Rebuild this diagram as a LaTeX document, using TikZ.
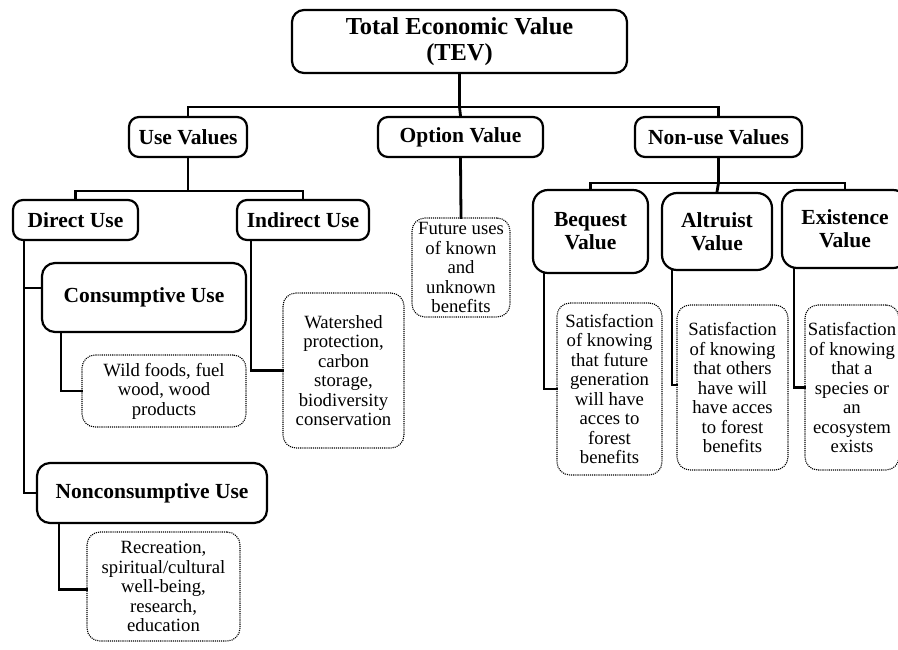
\documentclass[tikz,border=0pt]{standalone}
\usepackage{fontspec}
\setmainfont{Liberation Serif}
\begin{document}
\begin{tikzpicture}[x=1pt,y=-1pt,
  hbox/.style={draw, line width=2.2pt, rounded corners=10pt, inner sep=0pt, align=center,
     font=\fontsize{21.5}{23}\selectfont\bfseries},
  dbox/.style={draw, line width=1.1pt, dash pattern=on 1.1pt off 1pt, rounded corners=13pt,
     inner sep=0pt, align=center, font=\fontsize{18.7}{19.5}\selectfont},
  conn/.style={line width=2.8pt, line cap=rect}
]
\useasboundingbox (0,0) rectangle (898,649);
\clip (0,0) rectangle (898,649);
% header boxes
\node[hbox, minimum width=335pt, minimum height=63pt, rounded corners=12pt,
      font=\fontsize{24.4}{26}\selectfont\bfseries] (tev) at (459.5,41.5) {Total Economic Value\\(TEV)};
\node[hbox, minimum width=118pt, minimum height=40pt] (use) at (188,137) {Use Values};
\node[hbox, minimum width=165pt, minimum height=40pt] (opt) at (460.5,137) {Option Value};
\node[hbox, minimum width=167pt, minimum height=40pt] (non) at (718.5,137) {Non-use Values};
% use branch
\node[hbox, minimum width=125pt, minimum height=40pt] (dir) at (75.5,220) {Direct Use};
\node[hbox, minimum width=132pt, minimum height=40pt] (ind) at (303,220) {Indirect Use};
\node[hbox, minimum width=204pt, minimum height=69pt, rounded corners=13pt] (cons) at (144,297.5) {Consumptive Use};
\node[hbox, minimum width=230pt, minimum height=60pt, rounded corners=13pt] (ncons) at (152,493) {Nonconsumptive Use};
\node[dbox, minimum width=164pt, minimum height=72pt] (wild) at (164,391) {Wild foods, fuel\\wood, wood\\products};
\node[dbox, minimum width=121pt, minimum height=155pt] (water) at (343.5,370.5) {Watershed\\protection,\\carbon\\storage,\\biodiversity\\conservation};
\node[dbox, minimum width=153pt, minimum height=109pt] (rec) at (163.5,586.5) {Recreation,\\spiritual/cultural\\well-being,\\research,\\education};
% option
\node[dbox, minimum width=98pt, minimum height=99pt] (fut) at (461,267.5) {Future uses\\of known\\and\\unknown\\benefits};
% non-use branch
\node[hbox, minimum width=115pt, minimum height=83pt, rounded corners=15pt] (beq) at (590.5,231.5) {Bequest\\Value};
\node[hbox, minimum width=110pt, minimum height=77pt, rounded corners=15pt] (alt) at (717,231.5) {Altruist\\Value};
\node[hbox, minimum width=126pt, minimum height=78pt, rounded corners=15pt] (exi) at (845,229) {Existence\\Value};
\node[dbox, minimum width=105pt, minimum height=172pt] (beqt) at (609.5,389) {Satisfaction\\of knowing\\that future\\generation\\will have\\acces to\\forest\\benefits};
\node[dbox, minimum width=111pt, minimum height=165pt] (altt) at (732.5,387.5) {Satisfaction\\of knowing\\that others\\have will\\have acces\\to forest\\benefits};
\node[dbox, minimum width=94pt, minimum height=165pt] (exit) at (852,387.5) {Satisfaction\\of knowing\\that a\\species or\\an\\ecosystem\\exists};
% connectors level 1
\coordinate (bar1) at (459.5,107);
\draw[conn] (tev.south) -- (tev.south |- bar1);
\draw[conn] (use.north) |- (bar1) -| (non.north);
\draw[conn] (tev.south |- bar1) -- (opt.north);
% use values
\coordinate (bar2) at (188,191);
\draw[conn] (use.south) -- (use.south |- bar2);
\draw[conn] (dir.north) |- (bar2) -| (ind.north);
\draw[conn] ([xshift=12pt]dir.south west) |- ([yshift=9.5pt]cons.west);
\draw[conn] ([xshift=12pt]dir.south west) |- (ncons.west);
\draw[conn] ([xshift=20pt]cons.south west) |- (wild.west);
\draw[conn] ([xshift=23pt]ncons.south west) |- ([yshift=-3pt]rec.west);
\draw[conn] ([xshift=15pt]ind.south west) |- (water.west);
% option
\draw[conn] (opt.south) -- (fut.north);
% non-use
\coordinate (bar3) at (718,183);
\draw[conn] (non.south) -- (non.south |- bar3);
\draw[conn] (beq.north) |- (bar3) -| (exi.north);
\draw[conn] (non.south |- bar3) -- (alt.north);
\draw[conn] ([xshift=12pt]beq.south west) |- (beqt.west);
\draw[conn] ([xshift=11pt]alt.south west) |- ([yshift=2.5pt]altt.west);
\draw[conn] ([xshift=13pt]exi.south west) |- (exit.west);
\end{tikzpicture}
\end{document}
